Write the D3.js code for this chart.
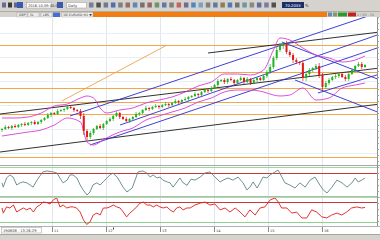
<!DOCTYPE html>
<html><head><meta charset="utf-8">
<script src="https://cdn.jsdelivr.net/npm/d3@7"></script>
<style>body{margin:0;overflow:hidden;background:#fff}svg{display:block;font-family:"DejaVu Sans",Arial,sans-serif}</style>
</head><body>
<svg id="c" width="380" height="240"></svg>
<script>
// ---------- DATA ----------
const firstOpen = 50;
const closes = [51,53,52,54,53,55,56,55,57,58, 56,58,60,62,65,67,66,69,70,71, 73,72,70,69,64,49,43,47,51,54,
  52,56,59,61,64,67,63,61,59,61, 63,66,67,70,72,71,73,74,73,75, 76,75,77,79,78,80,81,83,84,86,
  85,88,90,89,92,95,99,100,98,101, 100,97,100,102,98,101,97,100,102,100, 104,108,113,122,130,134,136,128,125,120,
  118,117,102,106,110,112,114,105,93,97, 100,103,104,106,103,101,106,110,114,116, 113,115];
const wickUp = [1,2,1,1,2,1,1,2,1,1, 2,1,1,1,2,1,1,2,1,1, 1,2,1,1,2,3,2,2,1,1, 2,1,1,2,1,2,1,1,2,1,
  1,2,1,1,2,1,1,2,1,1, 2,1,1,2,1,1,2,1,1,2, 1,1,2,1,2,1,2,1,2,1, 2,1,1,2,1,2,1,2,1,1,
  2,2,3,2,3,3,2,3,2,2, 2,1,3,2,2,1,2,3,2,2, 2,1,2,1,2,2,1,2,1,2, 2,1];
const wickDn = [2,1,1,2,1,1,2,1,1,2, 1,1,2,1,1,2,1,1,1,2, 1,1,2,1,3,4,3,2,2,1, 1,2,1,1,2,1,2,1,1,2,
  1,1,2,1,1,2,1,1,2,1, 1,2,1,1,2,1,1,2,1,1, 2,1,1,2,1,1,2,1,2,2, 1,2,1,1,2,1,2,1,2,1,
  1,2,2,2,2,2,3,2,2,3, 2,2,3,3,2,2,2,3,4,2, 2,1,2,2,1,2,2,1,2,1, 2,1];

const bbIdx   = [0,4,8,12,16,20,24,26,28,30,32,36,40,44,48,52,56,60,64,68,72,76,80,83,85,88,92,96,100,104,108,111];
const bbUpper = [62,62,63,67,74,76,82,84,82,72,67,70,72,77,80,83,88,94,98,106,106,105,110,130,142,140,132,125,122,118,120,124];
const bbLower = [44,46,48,50,55,62,58,38,35,38,42,48,52,60,64,68,72,78,82,88,90,90,88,85,84,85,92,80,82,92,95,97];

const orangeLevels = [135,108.5,92,78.5,66,23];
const orangeTrend = [[[18.3,79],[50.5,135]]];
const blackTrends = [
  [[-0.6,28],[115.6,76]],
  [[-0.6,66],[115.6,112]],
  [[63,127],[115.6,148]]
];
const blueTrends = [
  [[20.8,64],[115.6,168]],
  [[36.1,55],[115.6,146]],
  [[26.9,35],[115.6,133]],
  [[85.6,138],[115.6,100]],
  [[89.6,100],[115.6,67]],
  [[96.6,87],[115.6,106]]
];

const osc1 = [[0,48],[0.4,34],[1.4,64],[2.4,74],[3.4,67],[4.5,41],[5.5,48],[6.4,51],[7.6,48],[8.6,41],[9.5,34],[10.7,57],[12.5,84],[13.8,87],[15.6,84],[16.8,80],[17.7,64],[18.7,48],[19.9,57],[20.8,74],[21.7,74],[22.9,64],[23.9,41],[24.8,25],[26,8],[26.9,18],[27.8,41],[29,48],[30,41],[30.9,51],[32.1,64],[33,74],[33.9,80],[35.2,67],[36.1,51],[37,34],[38.2,18],[39.8,31],[40.7,57],[41.6,84],[43.1,87],[44.3,80],[45.3,67],[46.2,74],[47.4,64],[48.3,67],[49.2,57],[50.5,51],[51.4,48],[52.3,34],[53.5,51],[54.4,64],[55.4,48],[56.6,40],[57.8,60],[59,57],[60.6,67],[62,80],[63.6,84],[65.1,67],[66.7,51],[67.6,57],[69.1,64],[70.6,57],[72.2,67],[73.7,48],[74.9,25],[75.8,34],[76.8,51],[78,31],[78.9,48],[79.8,67],[81,64],[82,74],[83.5,84],[84.4,90],[85.6,67],[86.5,48],[88,41],[89.6,31],[91.1,48],[92.7,34],[94.2,57],[95.7,67],[97.2,41],[98.2,25],[99.4,15],[100.9,34],[102.4,57],[104,48],[105.5,34],[107,48],[108,64],[108.9,51],[110,57],[111,64]];
const osc2 = [[0,63],[0.4,44],[1.4,67],[2.4,63],[3.5,74],[4.5,48],[5.5,56],[6.5,63],[7.6,56],[8.6,63],[9.6,48],[10.6,67],[11.6,74],[12.6,85],[13.7,83],[14.7,78],[15.7,93],[16.7,100],[17.2,85],[17.7,67],[18.7,74],[19.8,63],[20.8,67],[21.8,67],[22.8,63],[23.9,48],[24.9,19],[25.9,2],[26.9,11],[27.9,37],[29,44],[30,37],[31,63],[32,63],[33,67],[34,74],[35.1,67],[36.1,63],[37.1,48],[38.1,30],[39.1,44],[40.2,56],[41.2,67],[42.2,81],[43.2,85],[44.3,74],[45.3,74],[46.3,67],[47.3,74],[48.3,67],[49.3,63],[50.4,67],[51.4,56],[52.4,48],[53.4,63],[54.4,67],[55.4,56],[56.5,63],[57.5,63],[59,74],[60.6,81],[62.1,85],[63.6,74],[65.1,78],[66.7,56],[68.2,63],[69.7,48],[71.3,63],[72.8,48],[74.3,30],[75.8,56],[77.4,37],[78.9,63],[80.4,67],[82,93],[83.5,100],[84.5,85],[85.5,63],[87.1,63],[88.6,44],[90.1,48],[91.7,26],[93.2,26],[94.7,56],[96.2,48],[97.8,30],[99.3,26],[100.8,37],[102.4,44],[103.9,37],[105.4,48],[106.9,63],[108.5,67],[110,63],[111,65]];
const osc1Levels = {red:80, green:5};
const osc2Levels = {red:85, green:11};

const timeTicks  = [15.3,31.8,48.3,64.8,81.3,97.9];
const timeLabels = ["11","12","13","14","15","16"];
const stampLabel = "190808 - 13:26:29";

// ---------- SCALES ----------
const svg = d3.select("#c");
const W = 380, RIGHT = 377;
const x = d3.scaleLinear().domain([0,111]).range([2,365]);
const yM = d3.scaleLinear().domain([15,163]).range([165,17]);
const y1 = d3.scaleLinear().domain([0,100]).range([197.5,167]);
const y2 = d3.scaleLinear().domain([0,100]).range([225,198]);

// ---------- CHROME ----------
svg.append("rect").attr("width",W).attr("height",240).attr("fill","#fff");
svg.append("rect").attr("x",0).attr("y",0).attr("width",W).attr("height",17).attr("fill","#d6d3ce");
svg.append("line").attr("x1",0).attr("x2",W).attr("y1",11.5).attr("y2",11.5).attr("stroke","#b0aca4");
// toolbar icons
const tb = svg.append("g");
const iconCols = ["#6a6a9a","#3a3a3a","#5a6a8a","#3a5ab0","#707070","#8a5a5a","#4a7ab0","#606060","#905050","#5a8a5a","#4a6aa0","#707070","#c05050","#5a5a8a","#3a7ac0","#6a9ac0","#707070","#4a6a9a","#8a6a4a","#3a6ab0","#606060","#5a8aa0","#7a7a7a","#4a5a9a"];
[2,8,14].forEach((px,k)=>tb.append("rect").attr("x",px).attr("y",2.5).attr("width",4).attr("height",5).attr("fill",iconCols[k]));
tb.append("rect").attr("x",17).attr("y",2).attr("width",6).attr("height",6).attr("fill","#3a5ab0");
tb.append("rect").attr("x",26.5).attr("y",2.5).attr("width",25).attr("height",5.5).attr("fill","#fff").attr("stroke","#9a9a9a").attr("stroke-width",0.5);
tb.append("text").attr("x",28).attr("y",7).attr("font-size",3.6).attr("fill","#333").text("2016.10.09 00:00");
tb.append("rect").attr("x",57).attr("y",2).attr("width",6).attr("height",6).attr("fill","#3a5ab0");
tb.append("rect").attr("x",66.5).attr("y",2.5).attr("width",20).attr("height",5.5).attr("fill","#fff").attr("stroke","#9a9a9a").attr("stroke-width",0.5);
tb.append("text").attr("x",68).attr("y",7).attr("font-size",3.6).attr("fill","#333").text("Daily");
for(let k=0;k<26;k++){
  const px = 89 + k*7.3;
  tb.append("rect").attr("x",px).attr("y",2.5).attr("width",4.5).attr("height",5).attr("fill",iconCols[k%iconCols.length]).attr("opacity",0.85);
}
tb.append("rect").attr("x",282).attr("y",2).attr("width",22).attr("height",6).attr("fill","#1c2e6a");
tb.append("text").attr("x",285).attr("y",6.8).attr("font-size",3.8).attr("fill","#fff").text("70.2033");
tb.append("text").attr("x",305).attr("y",7).attr("font-size",4).attr("fill","#333").text("%");
// tab row
const tabs = [[17,10],[28,11],[41,11]];
tabs.forEach(t=>svg.append("rect").attr("x",t[0]).attr("y",12.5).attr("width",t[1]).attr("height",4.5).attr("fill","#ecebe8").attr("stroke","#9a9a9a").attr("stroke-width",0.4));
["GBP","5L","LBS"].forEach((s,k)=>svg.append("text").attr("x",tabs[k][0]+2).attr("y",16.2).attr("font-size",3.2).attr("fill","#333").text(s));
svg.append("rect").attr("x",53).attr("y",12.5).attr("width",7).attr("height",4.5).attr("fill","#4a6ed0");
svg.append("rect").attr("x",62).attr("y",12.5).attr("width",31).attr("height",4.5).attr("fill","#f4f3f0").attr("stroke","#9a9a9a").attr("stroke-width",0.4);
svg.append("text").attr("x",63.5).attr("y",16.2).attr("font-size",3.2).attr("fill","#333").text("DE-EURUSD M1 ▼");
svg.append("rect").attr("x",93).attr("y",12).attr("width",234).attr("height",5).attr("fill","#f07c12");
svg.append("rect").attr("x",328).attr("y",12.5).attr("width",4).attr("height",4).attr("fill","#6a8ab0");
svg.append("rect").attr("x",333).attr("y",12.5).attr("width",4).attr("height",4).attr("fill","#7a9a7a");
svg.append("rect").attr("x",338).attr("y",12.5).attr("width",9).attr("height",4).attr("fill","#2e9a2e");
svg.append("rect").attr("x",348).attr("y",12.5).attr("width",8).attr("height",4).attr("fill","#c42020");
svg.append("text").attr("x",357).attr("y",16.2).attr("font-size",3.4).attr("fill","#777").text("x / 80 . 34");

// ---------- CLIPS ----------
const defs = svg.append("defs");
defs.append("clipPath").attr("id","cm").append("rect").attr("x",0).attr("y",17).attr("width",RIGHT).attr("height",148);
defs.append("clipPath").attr("id","c1").append("rect").attr("x",0).attr("y",166).attr("width",RIGHT).attr("height",32);
defs.append("clipPath").attr("id","c2").append("rect").attr("x",0).attr("y",198).attr("width",RIGHT).attr("height",28);

// ---------- GRID ----------
const grid = svg.append("g").attr("shape-rendering","crispEdges");
timeTicks.forEach(t=>grid.append("line").attr("x1",Math.round(x(t))+0.5).attr("x2",Math.round(x(t))+0.5).attr("y1",17).attr("y2",226).attr("stroke","#dfe6ef"));
[27,51,75,99,123,147].forEach(v=>grid.append("line").attr("x1",0).attr("x2",RIGHT).attr("y1",Math.round(yM(v))+0.5).attr("y2",Math.round(yM(v))+0.5).attr("stroke","#e8eef5"));

// ---------- MAIN PANEL ----------
const gm = svg.append("g").attr("clip-path","url(#cm)");
orangeLevels.forEach(v=>gm.append("line").attr("x1",0).attr("x2",RIGHT).attr("y1",Math.round(yM(v))+0.5).attr("y2",Math.round(yM(v))+0.5)
  .attr("stroke","#f2a848").attr("stroke-width",1).attr("shape-rendering","crispEdges"));
const seg = (g,arr,col,w)=>arr.forEach(s=>g.append("line").attr("x1",x(s[0][0])).attr("y1",yM(s[0][1])).attr("x2",x(s[1][0])).attr("y2",yM(s[1][1])).attr("stroke",col).attr("stroke-width",w));
seg(gm,orangeTrend,"#f2a050",0.9);
seg(gm,blackTrends,"#1a1a1a",0.9);
seg(gm,blueTrends,"#2a2ad0",0.9);

// Bollinger bands
const bandLine = d3.line().x(d=>x(d[0])).y(d=>yM(d[1])).curve(d3.curveMonotoneX);
gm.append("path").attr("d",bandLine(bbIdx.map((t,k)=>[t,bbUpper[k]]))).attr("fill","none").attr("stroke","#d63cd6").attr("stroke-width",0.9);
gm.append("path").attr("d",bandLine(bbIdx.map((t,k)=>[t,bbLower[k]]))).attr("fill","none").attr("stroke","#d63cd6").attr("stroke-width",0.9);

// Candles
const candles = closes.map((c,i)=>{const o = i ? closes[i-1] : firstOpen; return {i,o,c,h:Math.max(o,c)+wickUp[i],l:Math.min(o,c)-wickDn[i]};});
const cg = gm.append("g");
candles.forEach(d=>{
  const col = d.c>=d.o ? "#22b422" : "#e01818";
  const cx = x(d.i);
  cg.append("line").attr("x1",cx).attr("x2",cx).attr("y1",yM(d.h)).attr("y2",yM(d.l)).attr("stroke",col).attr("stroke-width",0.7);
  const top = yM(Math.max(d.o,d.c)), bot = yM(Math.min(d.o,d.c));
  cg.append("rect").attr("x",cx-1).attr("y",top).attr("width",2).attr("height",Math.max(0.8,bot-top)).attr("fill",col);
});

// ---------- SEPARATORS ----------
svg.append("line").attr("x1",0).attr("x2",W).attr("y1",165.5).attr("y2",165.5).attr("stroke","#a8a8a8");
svg.append("line").attr("x1",0).attr("x2",W).attr("y1",197.5).attr("y2",197.5).attr("stroke","#c8c8c8");

// ---------- OSC 1 ----------
const g1 = svg.append("g").attr("clip-path","url(#c1)");
g1.append("line").attr("x1",0).attr("x2",RIGHT).attr("y1",167.5).attr("y2",167.5).attr("stroke","#9fd89f");
g1.append("line").attr("x1",0).attr("x2",RIGHT).attr("y1",Math.round(y1(osc1Levels.red))+0.5).attr("y2",Math.round(y1(osc1Levels.red))+0.5).attr("stroke","#c83a3a");
g1.append("line").attr("x1",0).attr("x2",RIGHT).attr("y1",Math.round(y1(osc1Levels.green))+0.5).attr("y2",Math.round(y1(osc1Levels.green))+0.5).attr("stroke","#8fd08f");
g1.append("path").attr("d",d3.line().x(d=>x(d[0])).y(d=>y1(d[1]))(osc1)).attr("fill","none").attr("stroke","#5f8585").attr("stroke-width",0.9);

// ---------- OSC 2 ----------
const g2 = svg.append("g").attr("clip-path","url(#c2)");
g2.append("line").attr("x1",0).attr("x2",RIGHT).attr("y1",Math.round(y2(osc2Levels.red))+0.5).attr("y2",Math.round(y2(osc2Levels.red))+0.5).attr("stroke","#c83a3a");
g2.append("line").attr("x1",0).attr("x2",RIGHT).attr("y1",Math.round(y2(osc2Levels.green))+0.5).attr("y2",Math.round(y2(osc2Levels.green))+0.5).attr("stroke","#8fd08f");
g2.append("path").attr("d",d3.line().x(d=>x(d[0])).y(d=>y2(d[1]))(osc2)).attr("fill","none").attr("stroke","#e01c1c").attr("stroke-width",0.9);

// ---------- RIGHT AXIS ----------
svg.append("line").attr("x1",RIGHT+0.5).attr("x2",RIGHT+0.5).attr("y1",17).attr("y2",226).attr("stroke","#909090");
d3.range(17,226,6).forEach(v=>svg.append("line").attr("x1",RIGHT).attr("x2",RIGHT+2).attr("y1",v+0.5).attr("y2",v+0.5).attr("stroke","#a0a0a0"));

// ---------- TIME AXIS ----------
svg.append("line").attr("x1",0).attr("x2",W).attr("y1",226.5).attr("y2",226.5).attr("stroke","#b0b0b0");
const ax = svg.append("g");
timeTicks.forEach((t,k)=>{
  const px = Math.round(x(t))+0.5;
  ax.append("line").attr("x1",px).attr("x2",px).attr("y1",227).attr("y2",232).attr("stroke","#888");
  ax.append("text").attr("x",px+1.5).attr("y",231.5).attr("font-size",3.6).attr("fill","#444").text(timeLabels[k]);
});
ax.append("rect").attr("x",1.5).attr("y",227.5).attr("width",40).attr("height",5.5).attr("fill","#fff").attr("stroke","#999").attr("stroke-width",0.5);
ax.append("text").attr("x",3).attr("y",231.7).attr("font-size",3.6).attr("fill","#333").text(stampLabel);
svg.append("rect").attr("x",113).attr("y",227.5).attr("width",0.8).attr("height",2).attr("fill","#111");
svg.append("rect").attr("x",0).attr("y",234.5).attr("width",W).attr("height",5.5).attr("fill","#d6d3ce");
svg.append("line").attr("x1",0).attr("x2",W).attr("y1",234.5).attr("y2",234.5).attr("stroke","#a8a49c");
</script>
</body></html>
